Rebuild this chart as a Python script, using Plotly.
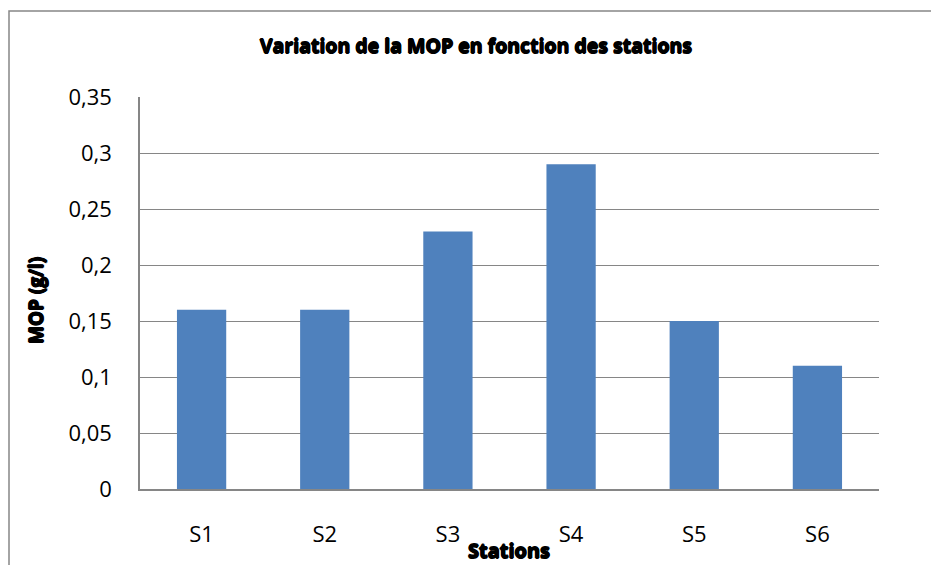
import plotly.graph_objects as go

# Station labels and measured MOP concentrations (g/l)
stations = ["S1", "S2", "S3", "S4", "S5", "S6"]
mop_values = [0.16, 0.16, 0.23, 0.29, 0.15, 0.11]
y_tick_values = [0, 0.05, 0.1, 0.15, 0.2, 0.25, 0.3, 0.35]
y_tick_labels = ["0", "0,05", "0,1", "0,15", "0,2", "0,25", "0,3", "0,35"]

W, H = 931, 565
L, R, T, B = 140, 52, 97, 76
pw, ph = W - L - R, H - T - B

def px_x(x):
    return (x - L) / pw

def px_y(y):
    return (H - B - y) / ph

grid = "#868686"
font_family = "Open Sans, Noto Sans, sans-serif"
# thickening halo for the heavy bold headings
heavy = "0.7px 0 0 #000, -0.7px 0 0 #000, 0 0.7px 0 #000, 0 -0.7px 0 #000"

fig = go.Figure(
    go.Bar(
        x=stations,
        y=mop_values,
        marker=dict(color="#4F81BD", line=dict(width=0)),
        width=0.4,
    )
)

fig.update_layout(
    width=W,
    height=H,
    margin=dict(l=L, r=R, t=T, b=B),
    paper_bgcolor="white",
    plot_bgcolor="white",
    showlegend=False,
    font=dict(family=font_family, color="black"),
    title=dict(
        text="<b>Variation de la MOP en fonction des stations</b>",
        x=476 / W,
        xanchor="center",
        xref="container",
        y=1 - 46 / H,
        yanchor="middle",
        yref="container",
        font=dict(family=font_family, size=19.5, color="black", weight=800, shadow=heavy),
    ),
    xaxis=dict(
        showgrid=False,
        showline=True,
        linecolor=grid,
        linewidth=1.5,
        ticks="",
        ticklabelstandoff=25,
        tickfont=dict(size=22),
    ),
    yaxis=dict(
        range=[0, 0.35],
        tickvals=y_tick_values,
        ticktext=y_tick_labels,
        showgrid=True,
        gridcolor=grid,
        gridwidth=1,
        showline=True,
        linecolor=grid,
        linewidth=1.5,
        zeroline=False,
        ticks="",
        ticklabelstandoff=22,
        tickfont=dict(size=22),
    ),
    annotations=[
        dict(
            text="<b>MOP (g/l)</b>",
            xref="paper", yref="paper",
            x=px_x(36), y=px_y(301),
            xanchor="center", yanchor="middle",
            textangle=-90, showarrow=False,
            font=dict(family=font_family, size=19, color="black", weight=800, shadow=heavy),
        ),
        dict(
            text="<b>Stations</b>",
            xref="paper", yref="paper",
            x=px_x(509), y=px_y(550),
            xanchor="center", yanchor="middle",
            showarrow=False,
            font=dict(family=font_family, size=20, color="black", weight=800, shadow=heavy),
        ),
    ],
    shapes=[
        dict(
            type="rect", xref="paper", yref="paper",
            x0=px_x(9), x1=px_x(940), y0=px_y(575), y1=px_y(11),
            line=dict(color=grid, width=1.5), fillcolor="rgba(0,0,0,0)",
            layer="below",
        )
    ],
)

fig.write_html("out.html")
